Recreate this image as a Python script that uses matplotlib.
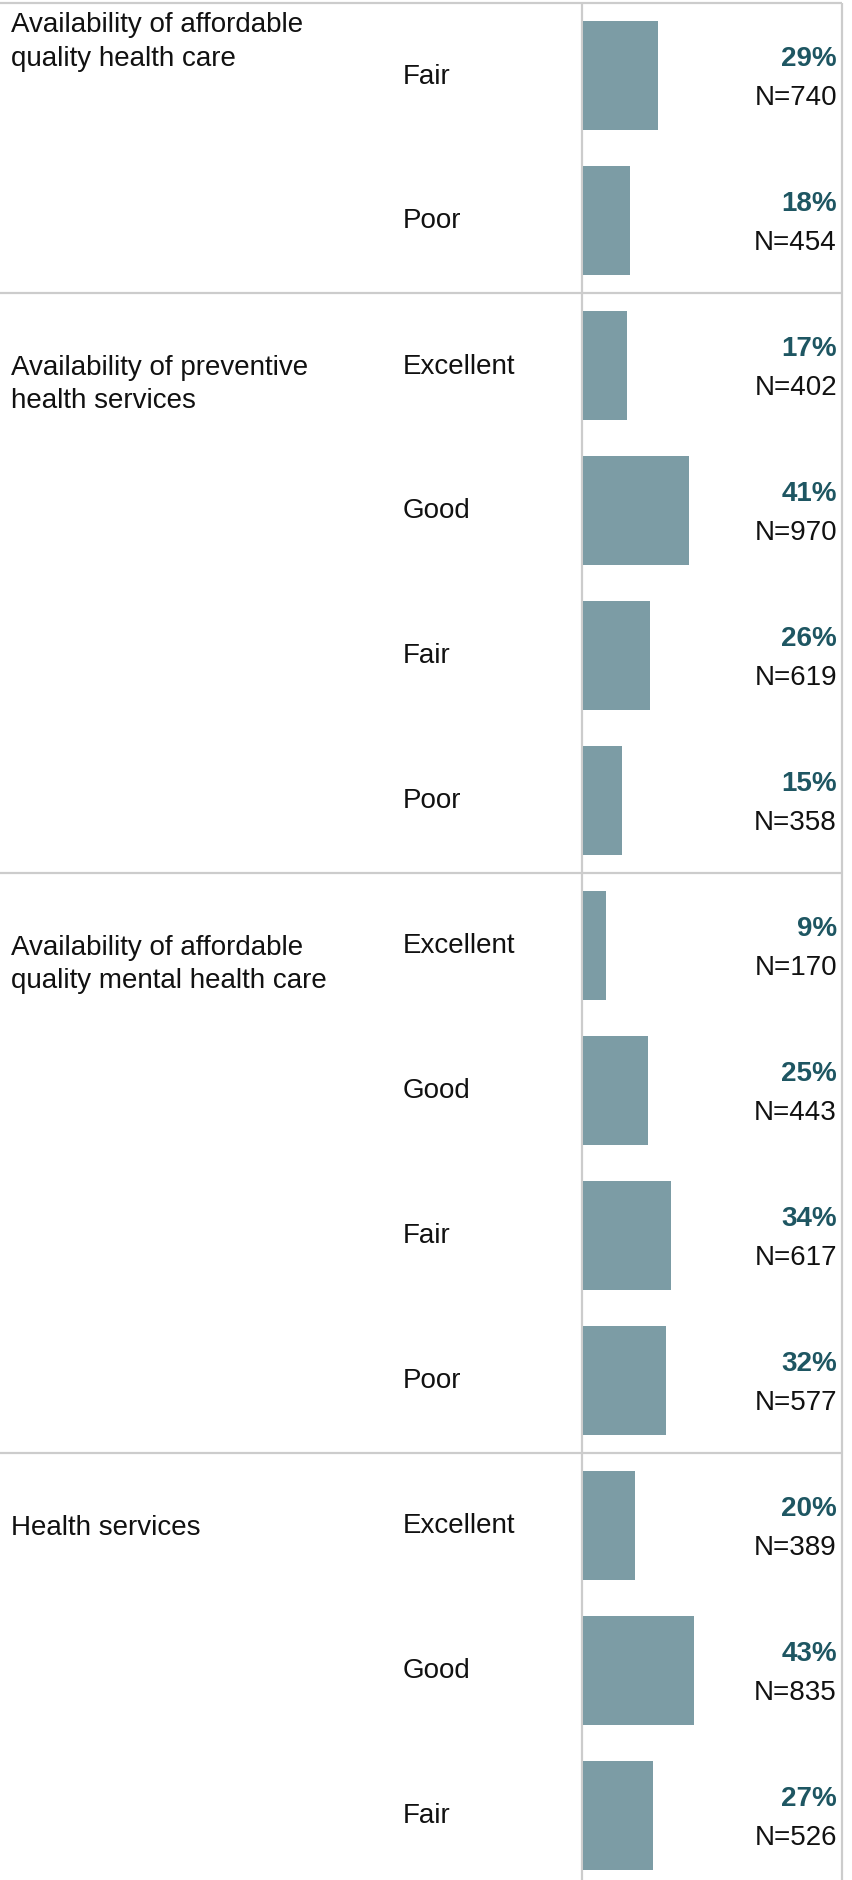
import matplotlib
matplotlib.use("Agg")
import matplotlib.pyplot as plt

plt.rcParams['font.family'] = ['Liberation Sans', 'DejaVu Sans']

# ---- data ----
group_labels = [
    "Availability of affordable\nquality health care",
    "Availability of preventive\nhealth services",
    "Availability of affordable\nquality mental health care",
    "Health services",
]
group_ratings = [
    ["Fair", "Poor"],
    ["Excellent", "Good", "Fair", "Poor"],
    ["Excellent", "Good", "Fair", "Poor"],
    ["Excellent", "Good", "Fair"],
]
group_pcts = [
    [29, 18],
    [17, 41, 26, 15],
    [9, 25, 34, 32],
    [20, 43, 27],
]
group_ns = [
    [740, 454],
    [402, 970, 619, 358],
    [170, 443, 617, 577],
    [389, 835, 526],
]

# ---- layout (pixels) ----
W, H = 852, 1881
DPI = 100
ROW_PX = 145.0
TOP_PX = 4.0
FIRST_CENTER_PX = TOP_PX + ROW_PX / 2
BAR_X0 = 583
BAR_X1 = 842
DIV_X = 582
RIGHT_X = 842

BAR_COLOR = "#7c9ca5"
PCT_COLOR = "#1e5662"
LINE_COLOR = "#cccccc"
FS = 20

fig = plt.figure(figsize=(W / DPI, H / DPI), dpi=DPI)

y_top = (0 - FIRST_CENTER_PX) / ROW_PX
y_bot = (H - FIRST_CENTER_PX) / ROW_PX

ax = fig.add_axes([0, 0, 1, 1])
ax.set_xlim(0, W)
ax.set_ylim(y_bot, y_top)
ax.axis("off")

axb = fig.add_axes([BAR_X0 / W, 0, (BAR_X1 - BAR_X0) / W, 1])
axb.set_xlim(0, 100)
axb.set_ylim(y_bot, y_top)
axb.axis("off")

row = 0
boundaries = [-0.5]
for gi, (glab, ratings, pcts, ns) in enumerate(zip(group_labels, group_ratings, group_pcts, group_ns)):
    first_row = row
    for rat, p, n in zip(ratings, pcts, ns):
        axb.barh(row, p, height=0.75, color=BAR_COLOR, left=0)
        ax.text(403, row, rat, fontsize=FS, va="center", ha="left", color="#111111")
        ax.text(837, row - 0.12, f"{p}%", fontsize=FS, fontweight="bold",
                va="center", ha="right", color=PCT_COLOR)
        ax.text(837, row + 0.15, f"N={n}", fontsize=FS, va="center", ha="right",
                color="#111111")
        row += 1
    boundaries.append(row - 0.5)
    if gi == 0:
        ly = (24 - FIRST_CENTER_PX) / ROW_PX
    else:
        ly = first_row
    ax.text(11, ly - 0.08, glab, fontsize=FS, va="top", ha="left",
            color="#111111", linespacing=1.36)

for b in boundaries[:-1]:
    ax.plot([0, RIGHT_X], [b, b], color=LINE_COLOR, lw=1.6, solid_capstyle="butt")
for x in (DIV_X, RIGHT_X):
    ax.plot([x, x], [-0.5, y_bot], color=LINE_COLOR, lw=1.6, solid_capstyle="butt")

fig.savefig("out.png", dpi=DPI)
